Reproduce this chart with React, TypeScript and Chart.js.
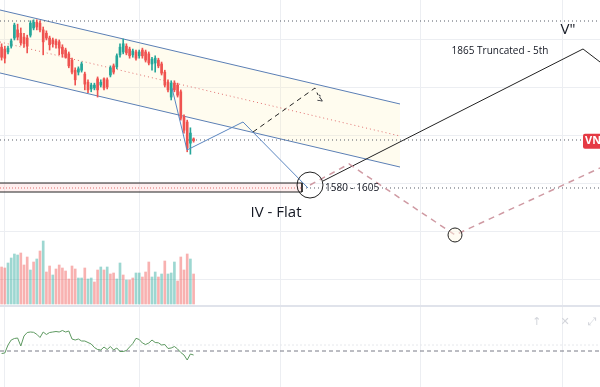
import React, { useEffect, useRef } from "react";
import { Chart, registerables } from "chart.js";
Chart.register(...registerables);

// ---- Candles (bar index 0..60) ----
const opens = [1883,1879,1873,1885,1902,1919,1912,1904,1902,1908,1923,1935,1933,1919,1912,1902,1898,1896,1894,1883,1877,1869,1856,1835,1831,1835,1827,1810,1796,1798,1817,1804,1817,1815,1825,1844,1842,1867,1873,1885,1879,1867,1873,1865,1877,1873,1869,1848,1850,1856,1848,1831,1810,1779,1808,1804,1790,1738,1727,1683,1692];
const highs = [1890,1885,1885,1900,1933,1931,1923,1912,1908,1938,1940,1940,1938,1925,1917,1906,1902,1900,1898,1888,1881,1873,1860,1840,1842,1852,1831,1815,1808,1808,1821,1815,1819,1819,1844,1848,1869,1890,1900,1890,1883,1879,1877,1877,1881,1877,1873,1862,1865,1860,1852,1835,1815,1813,1813,1808,1794,1742,1731,1715,1694];
const lows = [1856,1850,1869,1881,1898,1898,1887,1883,1871,1904,1919,1919,1915,1867,1898,1877,1883,1881,1867,1862,1860,1840,1827,1804,1825,1831,1794,1788,1790,1794,1779,1800,1794,1796,1821,1827,1838,1862,1869,1867,1860,1862,1856,1860,1860,1852,1846,1835,1831,1840,1825,1800,1790,1773,1790,1779,1731,1704,1665,1660,1685];
const closes = [1862,1860,1881,1896,1929,1904,1892,1890,1885,1933,1935,1925,1919,1894,1902,1888,1890,1888,1881,1869,1862,1844,1831,1815,1838,1848,1806,1794,1804,1804,1794,1810,1798,1800,1840,1831,1865,1883,1890,1871,1865,1875,1860,1873,1865,1856,1850,1858,1860,1844,1829,1804,1794,1808,1794,1783,1735,1710,1673,1704,1688];

// ---- Volume ----
const volumes = [185,180,205,230,250,245,255,195,235,170,210,225,265,315,160,190,145,175,195,180,165,125,190,175,130,130,180,125,130,110,170,185,170,185,150,155,125,205,145,120,120,130,155,155,135,160,210,135,160,135,150,215,150,155,210,115,235,170,250,225,150];
const volUp = [0,0,1,1,1,1,0,0,0,1,0,1,0,1,0,0,1,0,0,0,0,0,0,0,1,1,0,1,1,0,0,1,0,1,0,0,1,1,0,1,0,0,1,1,0,0,0,1,1,0,1,0,1,1,1,0,0,0,0,1,0];

// ---- Oscillator ----
const osc = [-2.5,-2,6,11,12.5,13,5,15,18.5,19,18.7,16.7,13.5,19,16.5,18.5,19,19.5,19,20.5,19,20,12,11,12,10,10,8.5,7,3.5,1.5,1,4,1.5,4.5,1,3,-0.5,-0.5,0.5,4,7.5,12.7,11.5,8,6.5,8,11,8.5,8.2,6,6.5,2.5,3,4.5,2,-1.5,-4,-9,-3,-4];
const oscLevel = 0;
const oscBand = 6;

// ---- Axis / grid ----
const xMin = -0.5;
const xMax = 187;
const xGridTicks = [0.75, 43, 87, 130.75, 175];
const priceGridTicks = [1400, 1500, 1600, 1700, 1800, 1900];

// ---- Drawings (bar index, price) ----
const channelUpper = [{ x: -0.5, y: 1960.4 }, { x: 124.5, y: 1764.6 }];
const channelLower = [{ x: -0.5, y: 1829.2 }, { x: 124.5, y: 1633.3 }];
const channelMid = [{ x: -0.5, y: 1893.8 }, { x: 124.5, y: 1697.9 }];
const levelTop = 1937.5;
const levelLast = 1689.6;
const levelZone = 1589.6;
const zoneBoxTop = [{ x: -0.5, y: 1600 }, { x: 93.875, y: 1600 }];
const zoneBoxBottom = [{ x: -0.5, y: 1581.25 }, { x: 93.875, y: 1581.25 }];
const zoneBoxEdge = [{ x: 93.875, y: 1600 }, { x: 93.875, y: 1581.25 }];
const waveBlue = [{ x: 53.25, y: 1797.9 }, { x: 57.94, y: 1668.8 }, { x: 75.44, y: 1727.1 }, { x: 95.75, y: 1589.6 }];
const waveDashedBlack = [{ x: 78.56, y: 1706.25 }, { x: 97.94, y: 1797.9 }, { x: 98.88, y: 1783.3 }];
const waveSolidBlack = [{ x: 100.44, y: 1604.2 }, { x: 181.69, y: 1879.2 }, { x: 187, y: 1852.1 }];
const wavePink = [{ x: 96.375, y: 1595.8 }, { x: 108.56, y: 1639.6 }, { x: 141.69, y: 1491.7 }, { x: 187, y: 1631.25 }];
const bigCircle = [{ x: 96.375, y: 1595.8 }];
const smallCircle = [{ x: 141.69, y: 1491.7 }];

const labels = [
  { x: 85.75, y: 1537.5, text: "IV - Flat", size: 15, align: "center", rot: 0 },
  { x: 101.06, y: 1589.6, text: "1580 - 1605", size: 10, align: "left", rot: 0 },
  { x: 155.75, y: 1875, text: "1865 Truncated - 5th", size: 10, align: "center", rot: 0 },
  { x: 177, y: 1918.75, text: "V\"", size: 15, align: "center", rot: 0 },
  { x: 99.8, y: 1775, text: "v'", size: 9, align: "center", rot: -1.0 },
];
const paneIcons = [
  { x: 167.3, v: 29, text: "↑" },
  { x: 176.06, v: 29, text: "✕" },
  { x: 184.5, v: 29, text: "⤢" },
];

const FONT = "'Open Sans', 'DejaVu Sans', sans-serif";
const UP = "#26a69a";
const DOWN = "#ef5350";
const GRID = "#eceef2";

function line(data: any[], color: string, extra: any = {}) {
  return {
    type: "line",
    data,
    borderColor: color,
    borderWidth: 1,
    pointRadius: 0,
    fill: false,
    tension: 0,
    yAxisID: "y",
    ...extra,
  };
}

const overlayPlugin = {
  id: "overlay",
  beforeDatasetsDraw(chart: any) {
    const { ctx, scales, chartArea } = chart;
    ctx.save();
    ctx.strokeStyle = GRID;
    ctx.lineWidth = 1;
    ctx.beginPath();
    for (const v of xGridTicks) {
      const px = Math.round(scales.x.getPixelForValue(v)) + 0.5;
      ctx.moveTo(px, chartArea.top);
      ctx.lineTo(px, chartArea.bottom);
    }
    const sepY = Math.round(scales.yv.getPixelForValue(0)) + 1;
    for (const v of priceGridTicks) {
      const py = Math.round(scales.y.getPixelForValue(v)) + 0.5;
      if (py < sepY) {
        ctx.moveTo(chartArea.left, py);
        ctx.lineTo(chartArea.right, py);
      }
    }
    ctx.stroke();
    ctx.fillStyle = "#e0e3eb";
    ctx.fillRect(chartArea.left, sepY, chartArea.right - chartArea.left, 2);
    ctx.restore();
  },
  afterDatasetsDraw(chart: any) {
    const { ctx, scales, chartArea } = chart;
    ctx.save();
    ctx.fillStyle = "#131722";
    ctx.textBaseline = "middle";
    for (const l of labels) {
      const px = scales.x.getPixelForValue(l.x);
      const py = scales.y.getPixelForValue(l.y);
      ctx.save();
      ctx.translate(px, py);
      if (l.rot) ctx.rotate(l.rot);
      ctx.font = `${l.size}px ${FONT}`;
      ctx.textAlign = l.align as CanvasTextAlign;
      ctx.fillText(l.text, 0, 0);
      ctx.restore();
    }
    const last = closes[closes.length - 1];
    const ly = scales.y.getPixelForValue(last);
    ctx.fillStyle = "#e53a44";
    ctx.beginPath();
    ctx.roundRect(chartArea.right - 17, ly - 7, 22, 15, 2);
    ctx.fill();
    ctx.fillStyle = "#ffffff";
    ctx.font = `bold 11px ${FONT}`;
    ctx.textAlign = "left";
    ctx.fillText("VN", chartArea.right - 15, ly + 0.5);
    ctx.fillStyle = "#d3d5db";
    ctx.font = `11px 'DejaVu Sans', sans-serif`;
    ctx.textAlign = "center";
    for (const ic of paneIcons) {
      ctx.fillText(ic.text, scales.x.getPixelForValue(ic.x), scales.yo.getPixelForValue(ic.v));
    }
    ctx.restore();
  },
};

export default function App() {
  const ref = useRef<HTMLCanvasElement>(null);
  useEffect(() => {
    if (!ref.current) return;
    const idx = opens.map((_, i) => i);
    const candleColor = idx.map((i) => (closes[i] >= opens[i] ? UP : DOWN));
    const volColor = volUp.map((u) => (u ? "rgba(38,166,154,0.45)" : "rgba(239,83,80,0.45)"));
    const full = (y: number) => [{ x: xMin, y }, { x: xMax, y }];

    const datasets: any[] = [
      line(channelUpper, "#5b7fb5", { fill: "+1", backgroundColor: "rgba(255,240,180,0.22)", order: 100 }),
      line(channelLower, "#5b7fb5", { order: 99 }),
      line(channelMid, "#e07070", { borderDash: [1, 3], order: 98 }),
      line(zoneBoxTop, "#222222", { fill: "+1", backgroundColor: "rgba(255,190,190,0.25)", order: 97 }),
      line(zoneBoxBottom, "#222222", { order: 96 }),
      line(zoneBoxEdge, "#222222", { order: 96 }),
      line([{ x: xMin, y: levelZone }, { x: 93.875, y: levelZone }], "#e07070", { borderDash: [1, 2], order: 95 }),
      line(full(levelTop), "#555b66", { borderDash: [1, 3], order: 94 }),
      line([{ x: xMin, y: levelLast }, { x: 181.5, y: levelLast }], "#555b66", { borderDash: [1, 3], order: 94 }),
      line([{ x: 93.875, y: levelZone }, { x: xMax, y: levelZone }], "#555b66", { borderDash: [1, 3], order: 94 }),
      {
        type: "bar",
        data: idx.map((i) => ({ x: i, y: volumes[i] })),
        backgroundColor: volColor,
        barThickness: 2,
        grouped: false,
        yAxisID: "yv",
        order: 60,
      },
      {
        type: "bar",
        data: idx.map((i) => ({ x: i, y: [lows[i], highs[i]] })),
        backgroundColor: candleColor,
        barThickness: 1,
        grouped: false,
        yAxisID: "y",
        order: 50,
      },
      {
        type: "bar",
        data: idx.map((i) => ({ x: i, y: [opens[i], closes[i]] })),
        backgroundColor: candleColor,
        barThickness: 2,
        minBarLength: 1,
        grouped: false,
        yAxisID: "y",
        order: 49,
      },
      line(waveBlue, "#5b86c0", { order: 20 }),
      line(waveDashedBlack, "#222222", { borderDash: [5, 4], order: 19 }),
      line(waveSolidBlack, "#222222", { order: 18 }),
      line(wavePink, "#cf9aa3", { borderDash: [6, 5], borderWidth: 1.5, order: 17 }),
      {
        type: "scatter",
        data: bigCircle,
        pointRadius: 13,
        pointBorderColor: "#222222",
        pointBorderWidth: 1,
        pointBackgroundColor: "rgba(0,0,0,0)",
        yAxisID: "y",
        order: 10,
      },
      {
        type: "scatter",
        data: smallCircle,
        pointRadius: 7,
        pointBorderColor: "#222222",
        pointBorderWidth: 1,
        pointBackgroundColor: "rgba(255,250,230,0.5)",
        yAxisID: "y",
        order: 10,
      },
      line(full(oscBand), "#e6e8ec", { borderDash: [2, 2], yAxisID: "yo", order: 9 }),
      line(full(oscLevel), "#787b86", { borderDash: [4, 3], yAxisID: "yo", order: 8 }),
      line(idx.map((i) => ({ x: i, y: osc[i] })), "#5d9960", { yAxisID: "yo", order: 7 }),
    ];

    const chart = new Chart(ref.current, {
      type: "bar",
      data: { datasets },
      plugins: [overlayPlugin],
      options: {
        animation: false,
        responsive: false,
        events: [],
        layout: { padding: 0, autoPadding: false },
        plugins: { legend: { display: false }, tooltip: { enabled: false } },
        scales: {
          x: { type: "linear", min: xMin, max: xMax, offset: false, display: false },
          y: { type: "linear", min: 1175, max: 1981.25, display: false },
          yv: { type: "linear", min: -415, max: 1520, display: false },
          yo: { type: "linear", min: -36, max: 351, display: false },
        },
      } as any,
    });
    return () => chart.destroy();
  }, []);
  return (
    <div style={{ position: "fixed", left: 0, top: 0, width: 600, height: 387, background: "#fff" }}>
      <canvas ref={ref} width={600} height={387} style={{ display: "block" }} />
    </div>
  );
}
